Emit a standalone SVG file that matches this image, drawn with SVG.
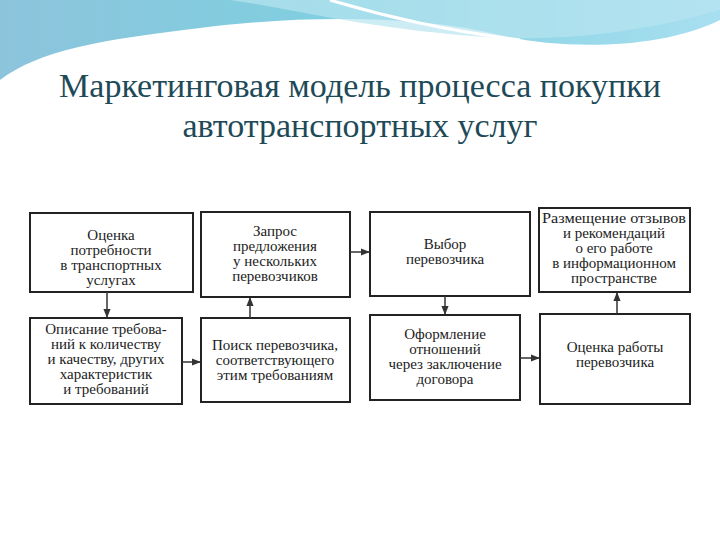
<svg xmlns="http://www.w3.org/2000/svg" width="720" height="540" viewBox="0 0 720 540">
<defs>
<linearGradient id="g1" x1="0" y1="0" x2="1" y2="0"><stop offset="0" stop-color="#8cc4dc"/><stop offset="0.5" stop-color="#7fd0e0"/><stop offset="1" stop-color="#a8dff0"/></linearGradient>
<marker id="ar" viewBox="0 0 10 10" refX="9" refY="5" markerWidth="6" markerHeight="6" orient="auto"><path d="M0,1 L10,5 L0,9 z" fill="#333"/></marker>
</defs>
<style>
.b{fill:#fff;stroke:#222;stroke-width:2}
.t{font-family:"Liberation Serif",serif;font-size:15px;fill:#222;text-anchor:middle}
.c{stroke:#333;stroke-width:1.5;fill:none;marker-end:url(#ar)}
.h{font-family:"Liberation Serif",serif;font-size:34px;fill:#1e4a58;text-anchor:middle}
</style>
<rect width="720" height="540" fill="#fff"/>
<path d="M0,0 H720 V20 C660,50 560,50 500,35 C420,15 300,15 200,28 C100,40 40,50 0,80 Z" fill="url(#g1)"/>
<path d="M230,0 C300,10 370,30 500,38 C580,40 650,30 720,10 V0 Z" fill="#b8e4ef" opacity="0.7"/>
<path d="M330,0 C380,15 440,30 520,40" stroke="#fff" stroke-width="3" fill="none"/>
<text class="h" x="360" y="97">Маркетинговая модель процесса покупки</text>
<text class="h" x="360" y="137">автотранспортных услуг</text>
<g id="n1"><rect class="b" x="30" y="213" width="163" height="79"/><text class="t" x="111" y="240">Оценка</text><text class="t" x="111" y="255">потребности</text><text class="t" x="111" y="270">в транспортных</text><text class="t" x="111" y="285">услугах</text></g>
<g id="n2"><rect class="b" x="201" y="212" width="149" height="85"/><text class="t" x="275" y="236">Запрос</text><text class="t" x="275" y="251">предложения</text><text class="t" x="275" y="266">у нескольких</text><text class="t" x="275" y="281">перевозчиков</text></g>
<g id="n3"><rect class="b" x="370" y="212" width="160" height="84"/><text class="t" x="445" y="249">Выбор</text><text class="t" x="445" y="264">перевозчика</text></g>
<g id="n4"><rect class="b" x="539" y="208" width="151" height="84"/><text class="t" x="614" y="223" textLength="144" lengthAdjust="spacingAndGlyphs">Размещение отзывов</text><text class="t" x="614" y="238">и рекомендаций</text><text class="t" x="614" y="253">о его работе</text><text class="t" x="614" y="268">в информационном</text><text class="t" x="614" y="283">пространстве</text></g>
<g id="n5"><rect class="b" x="30" y="318" width="152" height="86"/><text class="t" x="106" y="334">Описание требова-</text><text class="t" x="106" y="349">ний к количеству</text><text class="t" x="106" y="364">и качеству, других</text><text class="t" x="106" y="379">характеристик</text><text class="t" x="106" y="394">и требований</text></g>
<g id="n6"><rect class="b" x="201" y="318" width="149" height="84"/><text class="t" x="275" y="350">Поиск перевозчика,</text><text class="t" x="275" y="365">соответствующего</text><text class="t" x="275" y="380">этим требованиям</text></g>
<g id="n7"><rect class="b" x="370" y="315" width="150" height="85"/><text class="t" x="445" y="339">Оформление</text><text class="t" x="445" y="354">отношений</text><text class="t" x="445" y="369">через заключение</text><text class="t" x="445" y="384">договора</text></g>
<g id="n8"><rect class="b" x="540" y="314" width="150" height="90"/><text class="t" x="615" y="352">Оценка работы</text><text class="t" x="615" y="367">перевозчика</text></g>
<g id="connectors">
<line class="c" x1="107" y1="292" x2="107" y2="317"/>
<line class="c" x1="182" y1="362" x2="200" y2="362"/>
<line class="c" x1="250" y1="318" x2="250" y2="298"/>
<line class="c" x1="350" y1="252" x2="369" y2="252"/>
<line class="c" x1="445" y1="296" x2="445" y2="314"/>
<line class="c" x1="520" y1="358" x2="539" y2="358"/>
<line class="c" x1="617" y1="314" x2="617" y2="293"/>
</g>
</svg>
